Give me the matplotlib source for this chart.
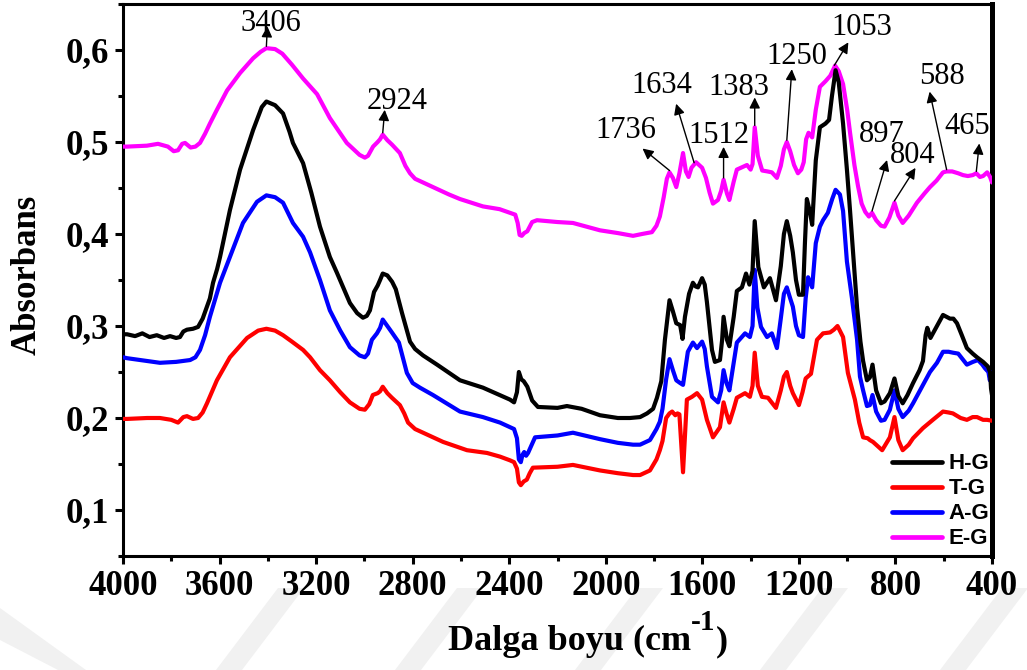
import numpy as np
import matplotlib
matplotlib.use("Agg")
import matplotlib.pyplot as plt
from matplotlib.patches import Polygon
from matplotlib.ticker import MultipleLocator, FuncFormatter

plt.rcParams["font.family"] = ["Liberation Serif", "DejaVu Serif"]

# ---------------- FTIR spectra (wavenumber in cm^-1, absorbance) ----------------
hg_wn = [4000, 3983, 3950, 3920, 3890, 3860, 3830, 3805, 3780, 3764, 3750, 3735, 3710,
         3689, 3670, 3652, 3640, 3627, 3610, 3598, 3557, 3515, 3461, 3425, 3406, 3370,
         3337, 3310, 3296, 3254, 3220, 3184, 3143, 3114, 3060, 3030, 3006, 2990, 2977,
         2960, 2945, 2935, 2924, 2905, 2885, 2870, 2844, 2811, 2790, 2757, 2699, 2604,
         2509, 2440, 2397, 2380, 2368, 2360, 2350, 2340, 2325, 2305, 2281, 2200, 2161,
         2100, 2024, 1950, 1900, 1858, 1829, 1804, 1788, 1770, 1755, 1736, 1722, 1708,
         1692, 1682, 1672, 1655, 1639, 1628, 1618, 1601, 1590, 1581, 1560, 1548, 1527,
         1518, 1512, 1498, 1488, 1470, 1457, 1436, 1419, 1405, 1392, 1383, 1368, 1345,
         1320, 1295, 1275, 1262, 1250, 1236, 1225, 1212, 1200, 1183, 1175, 1167, 1155,
         1145, 1130, 1113, 1090, 1075, 1063, 1048, 1035, 1017, 1001, 988, 970, 959, 945,
         934, 918, 906, 895, 880, 860, 845, 823, 804, 788, 770, 750, 727, 700, 686, 675,
         668, 655, 628, 603, 588, 574, 560, 545, 525, 504, 480, 462, 437, 417, 408, 404, 400]
hg_abs = [0.291, 0.291, 0.289, 0.292, 0.288, 0.290, 0.287, 0.289, 0.287, 0.288, 0.294, 0.296, 0.297,
          0.299, 0.308, 0.321, 0.330, 0.347, 0.362, 0.375, 0.426, 0.470, 0.513, 0.538, 0.544, 0.540,
          0.531, 0.511, 0.499, 0.477, 0.445, 0.408, 0.375, 0.358, 0.325, 0.314, 0.309, 0.311, 0.317,
          0.337, 0.344, 0.350, 0.357, 0.355, 0.348, 0.340, 0.314, 0.283, 0.275, 0.268, 0.258, 0.241,
          0.233, 0.225, 0.220, 0.217, 0.228, 0.250, 0.242, 0.240, 0.234, 0.219, 0.212, 0.211, 0.213,
          0.210, 0.203, 0.200, 0.200, 0.201, 0.205, 0.210, 0.222, 0.240, 0.285, 0.328, 0.316, 0.303,
          0.301, 0.286, 0.310, 0.335, 0.347, 0.343, 0.342, 0.352, 0.345, 0.326, 0.274, 0.261, 0.263,
          0.285, 0.310, 0.285, 0.278, 0.310, 0.338, 0.342, 0.357, 0.345, 0.360, 0.414, 0.364, 0.342,
          0.352, 0.328, 0.365, 0.400, 0.414, 0.398, 0.380, 0.350, 0.334, 0.334, 0.390, 0.438, 0.425,
          0.410, 0.480, 0.516, 0.520, 0.524, 0.550, 0.578, 0.565, 0.520, 0.470, 0.425, 0.360, 0.320, 0.283,
          0.262, 0.241, 0.244, 0.258, 0.230, 0.216, 0.218, 0.227, 0.243, 0.224, 0.216, 0.225, 0.238, 0.252, 0.262, 0.290,
          0.298, 0.287, 0.300, 0.312, 0.310, 0.308, 0.308, 0.303, 0.290, 0.276, 0.270, 0.266, 0.261, 0.256, 0.250, 0.232, 0.225]

tg_wn = [4000, 3983, 3900, 3847, 3800, 3772, 3750, 3735, 3710, 3689, 3670, 3652, 3611,
         3557, 3486, 3440, 3406, 3370, 3337, 3300, 3254, 3225, 3184, 3143, 3100, 3060,
         3020, 2998, 2980, 2965, 2945, 2935, 2924, 2905, 2886, 2853, 2835, 2819, 2790,
         2757, 2674, 2575, 2492, 2438, 2397, 2380, 2368, 2360, 2352, 2340, 2327, 2315,
         2302, 2200, 2136, 2024, 1950, 1887, 1858, 1817, 1790, 1776, 1765, 1750, 1736,
         1725, 1712, 1703, 1695, 1688, 1680, 1672, 1664, 1643, 1622, 1601, 1581, 1556,
         1540, 1527, 1512, 1500, 1488, 1470, 1457, 1423, 1403, 1392, 1383, 1370, 1353,
         1328, 1295, 1275, 1262, 1250, 1236, 1225, 1200, 1185, 1172, 1150, 1125, 1100,
         1071, 1055, 1040, 1017, 997, 968, 950, 934, 915, 906, 893, 876, 855, 823, 804,
         788, 770, 745, 727, 686, 645, 603, 580, 562, 530, 504, 480, 462, 437, 420, 400]
tg_abs = [0.199, 0.199, 0.200, 0.200, 0.198, 0.195, 0.201, 0.202, 0.199, 0.200, 0.206, 0.216, 0.241,
          0.266, 0.287, 0.295, 0.297, 0.295, 0.290, 0.283, 0.274, 0.266, 0.252, 0.241, 0.228, 0.217,
          0.210, 0.209, 0.215, 0.225, 0.227, 0.229, 0.234, 0.227, 0.222, 0.214, 0.205, 0.195, 0.188,
          0.184, 0.174, 0.165, 0.162, 0.158, 0.154, 0.152, 0.145, 0.130, 0.127, 0.131, 0.133, 0.140,
          0.146, 0.147, 0.149, 0.143, 0.140, 0.138, 0.138, 0.143, 0.155, 0.165, 0.175, 0.200, 0.205,
          0.207, 0.203, 0.205, 0.204, 0.175, 0.141, 0.180, 0.220, 0.223, 0.227, 0.220, 0.198, 0.179,
          0.185, 0.190, 0.217, 0.205, 0.195, 0.210, 0.222, 0.227, 0.223, 0.235, 0.271, 0.235, 0.223,
          0.222, 0.211, 0.230, 0.245, 0.250, 0.235, 0.227, 0.214, 0.228, 0.243, 0.248, 0.285, 0.292,
          0.293, 0.296, 0.300, 0.288, 0.249, 0.220, 0.195, 0.179, 0.178, 0.176, 0.174, 0.170, 0.165, 0.179, 0.201,
          0.176, 0.165, 0.171, 0.178, 0.189, 0.198, 0.207, 0.206, 0.205, 0.200, 0.198, 0.201, 0.201, 0.198, 0.198, 0.197]

ag_wn = [4000, 3983, 3900, 3847, 3780, 3722, 3700, 3681, 3660, 3640, 3598, 3557, 3503,
         3445, 3406, 3370, 3337, 3296, 3254, 3225, 3184, 3143, 3100, 3060, 3020, 2998,
         2985, 2969, 2948, 2935, 2924, 2905, 2886, 2857, 2840, 2824, 2800, 2770, 2716,
         2604, 2509, 2438, 2397, 2380, 2368, 2360, 2352, 2345, 2338, 2330, 2322, 2305,
         2293, 2200, 2136, 2024, 1950, 1887, 1858, 1817, 1790, 1776, 1765, 1750, 1736,
         1722, 1708, 1692, 1680, 1660, 1639, 1622, 1601, 1590, 1581, 1560, 1535, 1522,
         1512, 1500, 1488, 1470, 1457, 1423, 1403, 1392, 1383, 1372, 1357, 1332, 1312,
         1291, 1275, 1262, 1250, 1236, 1225, 1212, 1200, 1183, 1172, 1162, 1145, 1130,
         1113, 1100, 1080, 1062, 1048, 1030, 1017, 1001, 980, 959, 947, 934, 918, 906,
         895, 880, 860, 845, 823, 804, 788, 770, 745, 727, 686, 657, 628, 603, 580, 562,
         540, 525, 504, 479, 458, 440, 429, 415, 409, 400]
ag_abs = [0.266, 0.265, 0.262, 0.260, 0.261, 0.263, 0.266, 0.274, 0.290, 0.310, 0.347, 0.375, 0.412,
          0.435, 0.442, 0.440, 0.434, 0.412, 0.397, 0.380, 0.350, 0.317, 0.295, 0.277, 0.268, 0.266,
          0.270, 0.285, 0.292, 0.298, 0.307, 0.300, 0.293, 0.282, 0.265, 0.249, 0.238, 0.233, 0.225,
          0.207, 0.201, 0.195, 0.190, 0.188, 0.178, 0.155, 0.152, 0.160, 0.163, 0.159, 0.162, 0.172,
          0.179, 0.181, 0.184, 0.177, 0.173, 0.171, 0.171, 0.176, 0.188, 0.196, 0.210, 0.242, 0.264,
          0.252, 0.241, 0.238, 0.236, 0.272, 0.282, 0.276, 0.283, 0.275, 0.256, 0.223, 0.217, 0.230,
          0.252, 0.238, 0.230, 0.260, 0.282, 0.292, 0.288, 0.300, 0.361, 0.320, 0.299, 0.288, 0.292,
          0.276, 0.308, 0.335, 0.342, 0.330, 0.321, 0.300, 0.290, 0.288, 0.330, 0.353, 0.342, 0.390,
          0.408, 0.415, 0.423, 0.438, 0.448, 0.443, 0.425, 0.370, 0.330, 0.285, 0.245, 0.230, 0.213, 0.214,
          0.225, 0.207, 0.197, 0.198, 0.209, 0.230, 0.210, 0.201, 0.208, 0.216, 0.236, 0.250, 0.260, 0.272, 0.272, 0.271,
          0.270, 0.265, 0.258, 0.261, 0.263, 0.258, 0.254, 0.250, 0.241, 0.250]

eg_wn = [4000, 3983, 3901, 3855, 3814, 3790, 3772, 3755, 3743, 3720, 3700, 3681, 3660,
         3640, 3611, 3569, 3515, 3461, 3430, 3406, 3370, 3340, 3300, 3254, 3196, 3143,
         3073, 3020, 2998, 2985, 2964, 2945, 2935, 2924, 2905, 2885, 2853, 2830, 2811,
         2790, 2757, 2716, 2650, 2604, 2509, 2440, 2397, 2375, 2365, 2357, 2348, 2338,
         2325, 2305, 2285, 2200, 2136, 2024, 1950, 1887, 1850, 1809, 1790, 1776, 1760,
         1747, 1736, 1722, 1708, 1695, 1680, 1668, 1657, 1645, 1626, 1601, 1585, 1570,
         1556, 1535, 1522, 1512, 1498, 1488, 1470, 1457, 1440, 1415, 1400, 1392, 1383,
         1370, 1352, 1330, 1312, 1291, 1275, 1262, 1250, 1236, 1220, 1204, 1190, 1180,
         1170, 1160, 1145, 1130, 1113, 1090, 1070, 1050, 1035, 1017, 1000, 988, 970, 955,
         940, 925, 910, 897, 880, 860, 845, 825, 804, 788, 770, 745, 711, 680, 657, 630,
         603, 588, 565, 540, 520, 500, 480, 465, 450, 437, 420, 408, 400]
eg_abs = [0.495, 0.495, 0.496, 0.498, 0.495, 0.490, 0.491, 0.498, 0.499, 0.494, 0.495, 0.499, 0.509,
          0.520, 0.535, 0.556, 0.575, 0.591, 0.598, 0.602, 0.601, 0.596, 0.584, 0.569, 0.552, 0.526,
          0.499, 0.486, 0.483, 0.485, 0.495, 0.500, 0.503, 0.508, 0.502, 0.497, 0.488, 0.474, 0.466,
          0.460, 0.456, 0.451, 0.443, 0.438, 0.430, 0.427, 0.423, 0.421, 0.412, 0.399, 0.398, 0.401,
          0.403, 0.413, 0.415, 0.413, 0.412, 0.404, 0.401, 0.398, 0.400, 0.402, 0.409, 0.419, 0.440,
          0.460, 0.467, 0.461, 0.451, 0.466, 0.488, 0.468, 0.462, 0.472, 0.478, 0.472, 0.461, 0.445,
          0.433, 0.437, 0.447, 0.459, 0.444, 0.437, 0.457, 0.470, 0.472, 0.475, 0.470, 0.476, 0.516,
          0.485, 0.469, 0.468, 0.467, 0.461, 0.474, 0.492, 0.500, 0.490, 0.475, 0.466, 0.470, 0.478,
          0.503, 0.510, 0.505, 0.535, 0.560, 0.566, 0.572, 0.583, 0.577, 0.563, 0.535, 0.510, 0.475, 0.452,
          0.433, 0.424, 0.419, 0.423, 0.415, 0.409, 0.408, 0.418, 0.434, 0.420, 0.412, 0.420, 0.434, 0.444, 0.451, 0.458,
          0.467, 0.468, 0.468, 0.466, 0.464, 0.463, 0.464, 0.466, 0.462, 0.463, 0.467, 0.462, 0.456]

series_labels = ["H-G", "T-G", "A-G", "E-G"]
series_colors = ["#000000", "#ff0000", "#0000ff", "#ff00ff"]

# Labelled E-G bands
band_labels = [3406, 2924, 1736, 1634, 1512, 1383, 1250, 1053, 897, 804, 588, 465]

# ---------------- Figure ----------------
W, H = 1027, 670
fig = plt.figure(figsize=(W / 100, H / 100), dpi=100)

# faint diagonal watermark stripes along the bottom margin
stripe_bottoms = [216, 395, 575, 760, 940]
for xb in stripe_bottoms:
    pts = [(xb, 0), (xb + 26, 0), (xb + 26 + 62, 82), (xb + 62, 82)]
    fig.add_artist(Polygon([(x / W, y / H) for x, y in pts], closed=True,
                           transform=fig.transFigure, facecolor="#f1f1f1",
                           edgecolor="none", zorder=0))
fig.add_artist(Polygon([(0 / W, 62 / H), (0 / W, 30 / H), (58 / W, 0), (86 / W, 0)],
                       closed=True, transform=fig.transFigure, facecolor="#f1f1f1",
                       edgecolor="none", zorder=0))

ax = fig.add_axes([123 / W, 1 - 556 / H, (992 - 123) / W, (556 - 4) / H])
ax.patch.set_alpha(0)

data = [(hg_wn, hg_abs), (tg_wn, tg_abs), (ag_wn, ag_abs), (eg_wn, eg_abs)]
zorders = [5, 3, 4, 4.5]
for (wn, ab), lab, col, z in zip(data, series_labels, series_colors, zorders):
    ax.plot(wn, ab, color=col, lw=3.0, label=lab, zorder=z,
            solid_joinstyle="round", solid_capstyle="round")

ax.set_xlim(4000, 400)
ax.set_ylim(0.05, 0.65)

ax.xaxis.set_major_locator(MultipleLocator(400))
ax.xaxis.set_minor_locator(MultipleLocator(200))
ax.yaxis.set_major_locator(MultipleLocator(0.1))
ax.yaxis.set_minor_locator(MultipleLocator(0.05))
ax.yaxis.set_major_formatter(FuncFormatter(lambda v, p: f"{v:.1f}".replace(".", ",")))
ax.xaxis.set_major_formatter(FuncFormatter(lambda v, p: f"{int(round(v))}"))

ax.tick_params(axis="both", which="major", direction="out", length=6, width=2.2,
               labelsize=25, pad=4, top=False, right=False)
ax.tick_params(axis="both", which="minor", direction="out", length=3.5, width=2.2,
               top=False, right=False)
for t in ax.get_xticklabels() + ax.get_yticklabels():
    t.set_fontweight("bold")

for side in ["left", "bottom", "top"]:
    ax.spines[side].set_linewidth(2.2)
ax.spines["right"].set_linewidth(3.6)

fig.text(27 / W, 1 - 275 / H, "Absorbans", rotation=90, ha="center", va="center",
         fontsize=25, fontweight="bold")

# x-axis title assembled from main text, superscript and closing bracket
renderer = fig.canvas.get_renderer()
base_y = 1 - 650 / H
parts = [("Dalga boyu (cm", 26, 0), ("-1", 21, 20), (")", 26, 0)]
widths = []
for s, fs, _ in parts:
    tmp = fig.text(0, 0, s, fontsize=fs, fontweight="bold")
    widths.append(tmp.get_window_extent(renderer).width)
    tmp.remove()
x_px = 588 - sum(widths) / 2
for (s, fs, rise), w in zip(parts, widths):
    fig.text(x_px / W, base_y + rise / H, s, fontsize=fs, fontweight="bold",
             ha="left", va="baseline")
    x_px += w

# band annotations: text offset and arrow-head offset, in pixels from the band point
ann_layout = {
    3406: ((4, 15), (1, 20)),
    2924: ((14, 24), (2, 23)),
    1736: ((-44, 33), (-27, 22)),
    1634: ((-32, 70), (-18, 59)),
    1512: ((-5, 35), (0, 31)),
    1383: ((-16, 30), (0, 28)),
    1250: ((10, 76), (5, 71)),
    1053: ((27, 30), (14, 23)),
    897: ((10, 69), (15, 51)),
    804: ((18, 38), (21, 33)),
    588: ((-5, 86), (-17, 78)),
    465: ((-9, 37), (3, 28)),
}
eg_x = np.array(eg_wn[::-1], dtype=float)
eg_y = np.array(eg_abs[::-1], dtype=float)
for band in band_labels:
    yb = float(np.interp(band, eg_x, eg_y)) + 0.002
    (tx, ty), (hx, hy) = ann_layout[band]
    ax.annotate(str(band), xy=(band, yb), xytext=(tx, ty), textcoords="offset pixels",
                ha="center", va="baseline", fontsize=22, zorder=6)
    ax.annotate("", xy=(band, yb), xytext=(hx, hy), textcoords="offset pixels",
                arrowprops=dict(arrowstyle="<|-", color="black", lw=1.0,
                                mutation_scale=16, shrinkA=0, shrinkB=0), zorder=6)

leg = ax.legend(loc="lower right", bbox_to_anchor=(0.997, 0.012), frameon=False,
                handlelength=2.25, handletextpad=0.3, labelspacing=0.18,
                borderaxespad=0, borderpad=0,
                prop={"family": "Liberation Sans", "weight": "bold", "size": 16})
for line in leg.get_lines():
    line.set_linewidth(3.4)

fig.savefig("out.png", dpi=100)
